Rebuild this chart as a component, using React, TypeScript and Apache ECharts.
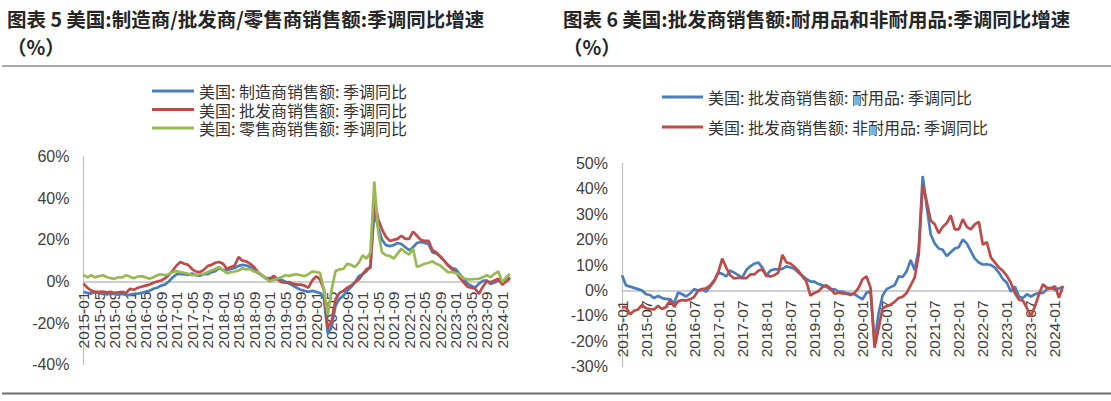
import React, { useEffect, useRef } from "react";
import * as echarts from "echarts";

// ---------- categories ----------
const START_YEAR = 2015;
const MONTH_COUNT = 111; // 2015-01 .. 2024-03
const months: string[] = [];
for (let i = 0; i < MONTH_COUNT; i++) {
  const y = START_YEAR + Math.floor(i / 12);
  const m = (i % 12) + 1;
  months.push(`${y}-${m < 10 ? "0" + m : m}`);
}
// tick label step (in months) of each chart
const LEFT_LABEL_STEP = 4;
const RIGHT_LABEL_STEP = 6;

// ---------- titles ----------
const leftTitle = "图表 5 美国:制造商/批发商/零售商销售额:季调同比增速\n（%）";
const rightTitle = "图表 6 美国:批发商销售额:耐用品和非耐用品:季调同比增速\n（%）";

// ---------- left chart series (%), yearly rows ----------
const leftNames = [
  "美国: 制造商销售额: 季调同比",
  "美国: 批发商销售额: 季调同比",
  "美国: 零售商销售额: 季调同比",
];
const manufacturing = [
  -5, -5.5, -5.8, -5.2, -5.5, -6, -6.2, -5.8, -6, -6.3, -6, -6.5,
  -6.3, -6, -5.8, -5.5, -5, -4.5, -3.5, -3, -2, -1.5, 0, 2,
  3.5, 3.7, 3.5, 3.2, 3.8, 3, 2.8, 3.5, 3.5, 4.5, 5, 6.5,
  5.5, 5.5, 6, 6.5, 7.5, 8, 7.7, 7, 5.5, 4, 3, 1.5,
  1.6, 1.5, 1, 0.8, 0, -1, -2, -3, -4, -4.5, -5, -4.5,
  -5, -5.5, -8, -25, -22, -11.6, -8.4, -6.8, -4.4, -2.7, -0.3, 2.5,
  3.5, 5, 7.5, 33.5, 26, 20, 17.5, 17, 17.5, 18.5, 18, 16.5,
  15, 16.5, 18.5, 19, 18.5, 18, 14, 13.5, 12, 10, 8, 6.5,
  6, 3.5, 1.5, -1, -2, -3, -1, 0.3, 0.5, -1.2, -0.5, 0.5,
  -0.5, 0.3, 2,
];
const wholesale = [
  -1, -3, -4.4, -5, -5, -4.8, -5.2, -5, -5.5, -5.2, -5, -5.5,
  -3.5, -4, -3, -2.5, -2, -1.5, -0.6, 0, 0.5, 1.5, 3, 5.3,
  7.7, 9.4, 8.5, 8, 6, 4.8, 4.5, 5.6, 7.4, 8, 9, 9.4,
  8.5, 6, 7, 7.7, 11.8, 10, 9.7, 8.5, 7, 4.5, 3, 1.6,
  1, 2.7, 1.3, -0.3, -0.6, -0.3, -1, -1.5, -1.5, -2, -3, 0.5,
  2.5, 1, -4, -22.5, -19, -9, -5.5, -4.5, -3, -2, -0.5, 1,
  3.5, 6, 6.5, 40, 30, 25, 21.5, 19.5, 20, 20.5, 22, 20.5,
  20.5, 24, 22, 20, 19.5, 19.5, 15, 14, 12, 10, 7.7, 6,
  4.5, 2, -0.3, -2.5, -3, -3.5, -6, -2.5, 0, -0.3, 0.5, 1.3,
  -1.6, 0, 1.6,
];
const retail = [
  3.2, 2, 3, 2, 2.6, 3, 2.2, 1.6, 1.3, 2, 2, 3,
  2.3, 1.6, 2.4, 2.6, 2, 1.3, 2, 3, 3.5, 3, 3.5, 4.5,
  5, 4.5, 4.2, 3.7, 3, 3.2, 3.5, 3.7, 4.5, 5.3, 6, 7,
  5.3, 4, 4.5, 4.8, 5.3, 6.4, 5.8, 6, 4.8, 4.5, 3, 1.6,
  0, 0.8, 1.3, 2, 3, 2.7, 3.2, 3.5, 3, 2.6, 3.5, 4.8,
  4.5, 4.2, -4, -16, -4, 5, 5.8, 6, 8.5, 8, 7, 9,
  12.6, 11, 14, 48, 24, 14, 12.6, 12.3, 11, 13.4, 15.8, 14,
  13, 15.8, 7, 7.7, 8.5, 9, 9.7, 8.5, 7.7, 6, 4.5, 4.5,
  4.2, 3, 1.5, 1, 1, 1.2, 1.3, 2, 3, 2, 3.7, 4.8,
  -0.3, 2, 3.7,
];

// ---------- right chart series (%) ----------
const rightNames = [
  "美国: 批发商销售额: 耐用品: 季调同比",
  "美国: 批发商销售额: 非耐用品: 季调同比",
];
const durable = [
  6, 2, 1.5, 1, 0.5, 0, -1.5, -1.8, -3, -2.2, -3, -3.3,
  -3.5, -5, -0.8, -1.5, -2.4, -1.2, 0.5, 0, 0.3, -0.5, 1.5, 3.5,
  7, 6.5, 5.5, 7.8, 7, 6, 5, 8, 9.5, 10.5, 11, 9,
  5.8, 7.8, 8.3, 8.3, 8.5, 9.5, 9, 8.5, 7, 5.8, 4.5, 3.5,
  3.5, 2.5, 2, 1.5, 0.3, 0.5, -0.5, -0.5, -1, -1.3, -1.5, -2.5,
  -3.5, -0.8, -0.5, -20.5, -9, -2, 0.5, 1.3, 2, 5.5, 5.3, 7.5,
  12, 8, 16, 45, 33, 22, 18.5, 16.5, 16, 13.5, 15, 16.5,
  17, 20, 18.5, 15.5, 12.5, 11, 10.2, 10.3, 10, 9, 7, 4.5,
  3, -0.5, 1.5, -2.4, -3, -1.5, -2.4, -1.5, -1, -1, 0.5, 1,
  0.3, 0.8, 1.5,
];
const nondurable = [
  -6.7, -6.5, -9.5, -8, -7.5, -5.7, -7, -7.3, -7.5, -6, -7.3, -6.5,
  -4, -6.3, -4.3, -3.8, -4, -3.5, -2.5, 0, 0.5, 0.8, 2, 4,
  7, 12.5, 9, 6, 4.7, 5, 4.8, 4.8, 6.3, 6.3, 7.7, 8.3,
  5.7, 5.5, 6, 7, 14, 11, 10.6, 9.3, 7.7, 5.5, 3.5, -2,
  -1, -0.3, 1.3, 2, 0.8, -1.3, -0.9, -1.2, -1.3, -1.8, -1, 1,
  4.4, 5.5, 1, -22.5, -15, -7, -6.2, -5.6, -4.5, -3, -2.5, -1,
  2, 5, 14, 41.5, 35, 27.5, 26, 22.5, 25, 26.5, 29.5, 24,
  24, 28, 25, 24, 26, 27, 18, 19, 13, 11, 9, 7.7,
  5.7, 3, -1, -3.6, -4, -7, -10.2, -6.2, -1.6, 2.4, 1, 0.8,
  1.7, -2.9, 1.8,
];

// y-axis ranges (value ticks)
const leftY = { min: -40, max: 60, step: 20 };
const rightY = { min: -30, max: 50, step: 10 };

const BLUE = "#4A7EBB";
const RED = "#BE4B48";
const GREEN = "#98B954";
const AXIS_GRAY = "#BFBFBF";
const LABEL_COLOR = "#404040";
const CJK = "'Noto Sans CJK SC', sans-serif";
const LATIN = "'Liberation Sans', Arial, sans-serif";

const LEFT_GRID = { left: 83.5, top: 156.7, width: 426.5, height: 208 };
const RIGHT_GRID = { left: 622, top: 163.3, width: 441, height: 203.4 };

function lineSeries(name: string, data: number[], color: string, axisIndex: number) {
  return {
    type: "line",
    name,
    data,
    xAxisIndex: axisIndex,
    yAxisIndex: axisIndex,
    showSymbol: false,
    symbol: "none",
    smooth: false,
    lineStyle: { color, width: 2.7 },
    itemStyle: { color },
  };
}

// the category axis sits on the zero value line: shift it up from the grid bottom
function xAxisCfg(gridIndex: number, step: number, gridHeight: number, yr: { min: number; max: number }) {
  const zeroFromBottom = (gridHeight * (0 - yr.min)) / (yr.max - yr.min);
  return {
    type: "category",
    gridIndex,
    data: months,
    boundaryGap: false,
    position: "bottom",
    offset: -zeroFromBottom,
    axisLine: { show: true, onZero: false, lineStyle: { color: AXIS_GRAY, width: 1.5 } },
    axisTick: { show: false },
    splitLine: { show: false },
    axisLabel: {
      interval: 0,
      formatter: (value: string, index: number) => (index % step === 0 ? value : ""),
      rotate: 90,
      margin: 10,
      fontSize: 15.5,
      hideOverlap: false,
      fontFamily: LATIN,
      color: LABEL_COLOR,
    },
  };
}

function yAxisCfg(gridIndex: number, yr: { min: number; max: number; step: number }) {
  return {
    type: "value",
    gridIndex,
    min: yr.min,
    max: yr.max,
    interval: yr.step,
    axisLine: { show: true, onZero: false, lineStyle: { color: AXIS_GRAY, width: 1.2 } },
    axisTick: { show: false },
    splitLine: { show: false },
    axisLabel: {
      formatter: "{value}%",
      margin: 14,
      fontSize: 16,
      fontFamily: LATIN,
      color: LABEL_COLOR,
    },
  };
}

export default function App() {
  const ref = useRef<HTMLDivElement>(null);

  useEffect(() => {
    document.body.style.margin = "0";
    if (!ref.current) return;
    const chart = echarts.init(ref.current, undefined, { renderer: "svg" });
    const titleStyle = {
      fontFamily: CJK,
      fontSize: 19.5,
      fontWeight: "bold",
      color: "#262626",
      lineHeight: 28,
    };
    const legendText = {
      fontFamily: CJK,
      fontSize: 16,
      color: "#333333",
      lineHeight: 18,
    };
    chart.setOption({
      animation: false,
      backgroundColor: "#ffffff",
      title: [
        { text: leftTitle, left: 2, top: -1, textStyle: titleStyle },
        { text: rightTitle, left: 558, top: -1, textStyle: titleStyle },
      ],
      legend: [
        {
          data: leftNames,
          orient: "vertical",
          left: 147,
          top: 77,
          icon: "rect",
          itemWidth: 42,
          itemHeight: 3,
          itemGap: 0.5,
          textStyle: legendText,
        },
        {
          data: rightNames,
          orient: "vertical",
          left: 657,
          top: 83,
          icon: "rect",
          itemWidth: 41,
          itemHeight: 3,
          itemGap: 12,
          textStyle: legendText,
        },
      ],
      grid: [
        { ...LEFT_GRID, outerBoundsMode: "none", containLabel: false },
        { ...RIGHT_GRID, outerBoundsMode: "none", containLabel: false },
      ],
      xAxis: [
        xAxisCfg(0, LEFT_LABEL_STEP, LEFT_GRID.height, leftY),
        xAxisCfg(1, RIGHT_LABEL_STEP, RIGHT_GRID.height, rightY),
      ],
      yAxis: [yAxisCfg(0, leftY), yAxisCfg(1, rightY)],
      series: [
        lineSeries(leftNames[0], manufacturing, BLUE, 0),
        lineSeries(leftNames[1], wholesale, RED, 0),
        lineSeries(leftNames[2], retail, GREEN, 0),
        lineSeries(rightNames[0], durable, BLUE, 1),
        lineSeries(rightNames[1], nondurable, RED, 1),
      ],
      graphic: [
        {
          type: "line",
          shape: { x1: 2, y1: 66, x2: 1111, y2: 66 },
          style: { stroke: "#8C8C8C", lineWidth: 1.5 },
        },
        {
          type: "line",
          shape: { x1: 2, y1: 393.5, x2: 1111, y2: 393.5 },
          style: { stroke: "#6E6E6E", lineWidth: 2 },
        },
      ],
    });
    return () => chart.dispose();
  }, []);

  return <div ref={ref} style={{ width: 1111, height: 401 }} />;
}
